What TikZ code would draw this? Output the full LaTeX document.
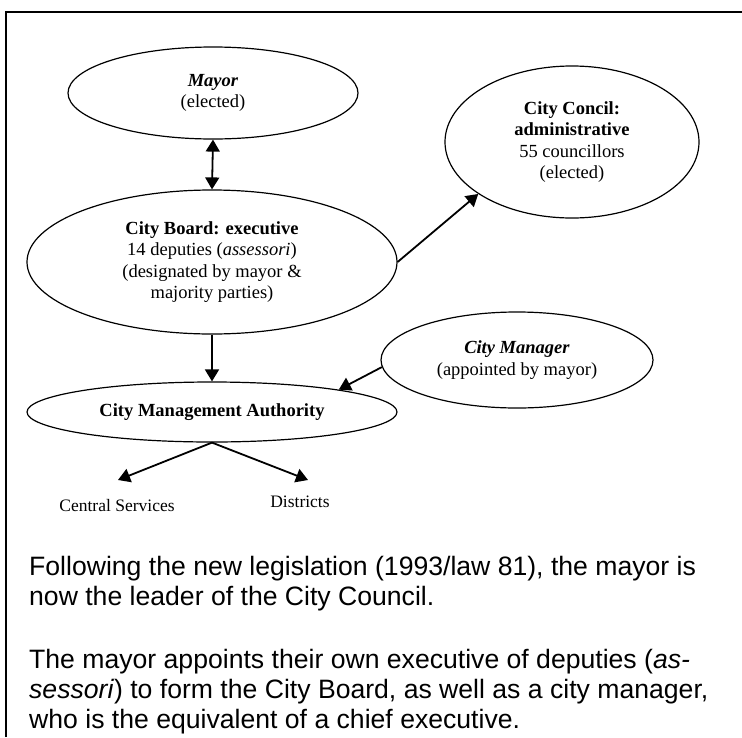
\documentclass[tikz,border=0pt]{standalone}
\usepackage{fontspec}
\setmainfont{Liberation Serif}
\newfontfamily\arialfont{Liberation Sans}
\usetikzlibrary{shapes.geometric,arrows.meta}
\tikzset{
  ell/.style={ellipse, draw, line width=1.2pt, inner sep=0pt, align=center,
    font=\fontsize{18.5}{21.3}\selectfont},
  tipstyle/.style={line width=1.8pt},
  arr/.style={tipstyle, -{Triangle[length=12pt,width=14pt]}},
  dbl/.style={tipstyle, {Triangle[length=12pt,width=14pt]}-{Triangle[length=12pt,width=14pt]}},
  small/.style={inner sep=0pt, anchor=base, font=\fontsize{17.5}{20}\selectfont},
  para/.style={inner sep=0pt, anchor=base west, font=\arialfont\fontsize{26.6}{30}\selectfont},
  frame/.style={line width=1.3pt}
}
\begin{document}
\begin{tikzpicture}[x=1pt,y=-1pt]
\useasboundingbox (0,0) rectangle (742,737);
\fill[white] (0,0) rectangle (742,737);
\draw[frame] (6,737) -- (6,12) -- (742,12);

\node[ell, minimum width=290pt, minimum height=92pt] (mayor) at (213,93)
  {\textbf{\textit{Mayor}}\\(elected)};
\node[ell, minimum width=370pt, minimum height=144pt] (board) at (212,262)
  {\textbf{City Board: executive}\\14 deputies (\textit{assessori})\\(designated by mayor \&\\majority parties)};
\node[ell, minimum width=254pt, minimum height=152pt] (council) at (572,142)
  {\textbf{City Concil:}\\\textbf{administrative}\\55 councillors\\(elected)};
\node[ell, minimum width=370pt, minimum height=60pt] (cma) at (212,412)
  {\textbf{City Management Authority}};
\node[ell, minimum width=272pt, minimum height=96pt] (manager) at (517,360)
  {\textbf{\textit{City Manager}}\\(appointed by mayor)};

\node[small] (central) at (117,511) {Central Services};
\node[small] (districts) at (300,507) {Districts};

\coordinate (cstip) at (118,480);
\coordinate (dstip) at (308,480);

\draw[dbl] (mayor.south) -- (board.north);
\draw[arr] (board.east) -- (council.209);
\draw[arr] (board.south) -- (cma.north);
\draw[arr] (manager.183) -- (cma.10);
\draw[arr] (cma.south) -- (cstip);
\draw[arr] (cma.south) -- (dstip);

\node[para] (p1) at (29,575) {Following the new legislation (1993/law 81), the mayor is};
\node[para] (p2) at (29,605) {now the leader of the City Council.};
\node[para] (p3) at (29,668) {The mayor appoints their own executive of deputies (\textit{as-}};
\node[para] (p4) at (29,698) {\textit{sessori}) to form the City Board, as well as a city manager,};
\node[para] (p5) at (29,728) {who is the equivalent of a chief executive.};
\end{tikzpicture}
\end{document}
